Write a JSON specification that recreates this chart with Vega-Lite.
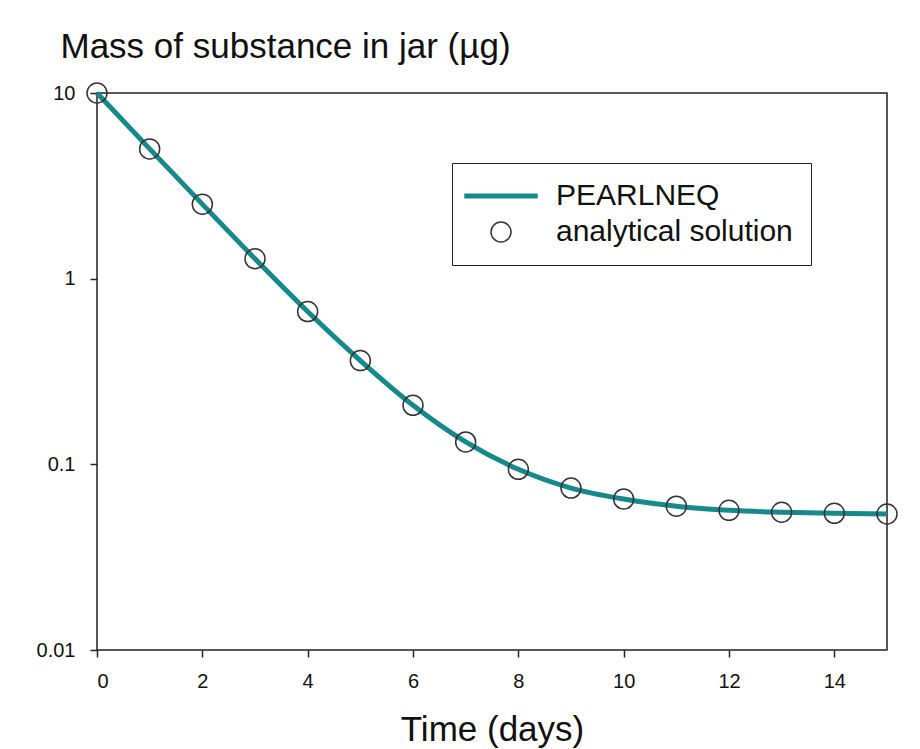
{
  "$schema": "https://vega.github.io/schema/vega-lite/v6.json",
  "width": 790,
  "height": 557,
  "autosize": {"type": "none"},
  "padding": {"left": 97, "top": 93, "right": 33, "bottom": 99},
  "background": "white",
  "config": {
    "font": "Liberation Sans",
    "view": {"stroke": "#222", "strokeWidth": 1.5},
    "axis": {"grid": false, "domain": false, "tickColor": "#222", "tickWidth": 1.5, "tickSize": 7, "labelColor": "#111", "titleColor": "#111", "labelFont": "Liberation Sans", "titleFont": "Liberation Sans", "titleFontWeight": "normal"}
  },
  "data": {"values": [
    {"day": 0, "mass": 10},
    {"day": 1, "mass": 5.0},
    {"day": 2, "mass": 2.52},
    {"day": 3, "mass": 1.28},
    {"day": 4, "mass": 0.665},
    {"day": 5, "mass": 0.362},
    {"day": 6, "mass": 0.208},
    {"day": 7, "mass": 0.132},
    {"day": 8, "mass": 0.094},
    {"day": 9, "mass": 0.0745},
    {"day": 10, "mass": 0.065},
    {"day": 11, "mass": 0.0595},
    {"day": 12, "mass": 0.0565},
    {"day": 13, "mass": 0.0552},
    {"day": 14, "mass": 0.0545},
    {"day": 15, "mass": 0.054}
  ]},
  "encoding": {
    "x": {"field": "day", "type": "quantitative",
      "scale": {"domain": [0, 15], "nice": false, "zero": false},
      "axis": {"values": [0, 2, 4, 6, 8, 10, 12, 14], "title": "Time (days)", "labelFontSize": 20, "labelPadding": 14, "titleFontSize": 35, "titleX": 395, "titleY": 90, "titleBaseline": "alphabetic", "titleAnchor": null, "titleAlign": "center"}},
    "y": {"field": "mass", "type": "quantitative",
      "scale": {"type": "log", "domain": [0.01, 10], "nice": false},
      "axis": {"values": [0.01, 0.1, 1, 10], "format": "~g", "title": "Mass of substance in jar (\u00b5g)", "labelFontSize": 20, "labelPadding": 15, "titleFontSize": 35, "titleAngle": 0, "titleAlign": "left", "titleBaseline": "alphabetic", "titleX": -37, "titleY": -36, "titleAnchor": null}}
  },
  "layer": [
    {
      "mark": {"type": "line", "interpolate": "monotone", "strokeWidth": 5},
      "encoding": {
        "color": {"datum": "PEARLNEQ", "type": "nominal",
          "scale": {"domain": ["PEARLNEQ", "analytical solution"], "range": ["#17898a", "#333333"]},
          "legend": {
            "orient": "none", "legendX": 355, "legendY": 70, "title": null,
            "strokeColor": "#222", "padding": 18, "fillColor": "white",
            "labelFontSize": 30, "labelFont": "Liberation Sans", "labelColor": "#111", "labelLimit": 0,
            "symbolSize": 1000, "symbolOffset": 16, "labelOffset": 40, "rowPadding": 6,
            "encode": {"symbols": {"update": {
              "shape": {"signal": "datum.value === 'PEARLNEQ' ? 'stroke' : 'circle'"},
              "size": {"signal": "datum.value === 'PEARLNEQ' ? 5400 : 400"},
              "strokeWidth": {"signal": "datum.value === 'PEARLNEQ' ? 5 : 1.5"},
              "stroke": {"signal": "datum.value === 'PEARLNEQ' ? '#17898a' : '#333333'"},
              "fill": {"value": "transparent"},
              "opacity": {"value": 1}
            }}}
          }}
      }
    },
    {
      "mark": {"type": "point", "filled": false, "size": 400, "strokeWidth": 1.5, "opacity": 1},
      "encoding": {
        "color": {"datum": "analytical solution", "type": "nominal"}
      }
    }
  ]
}
